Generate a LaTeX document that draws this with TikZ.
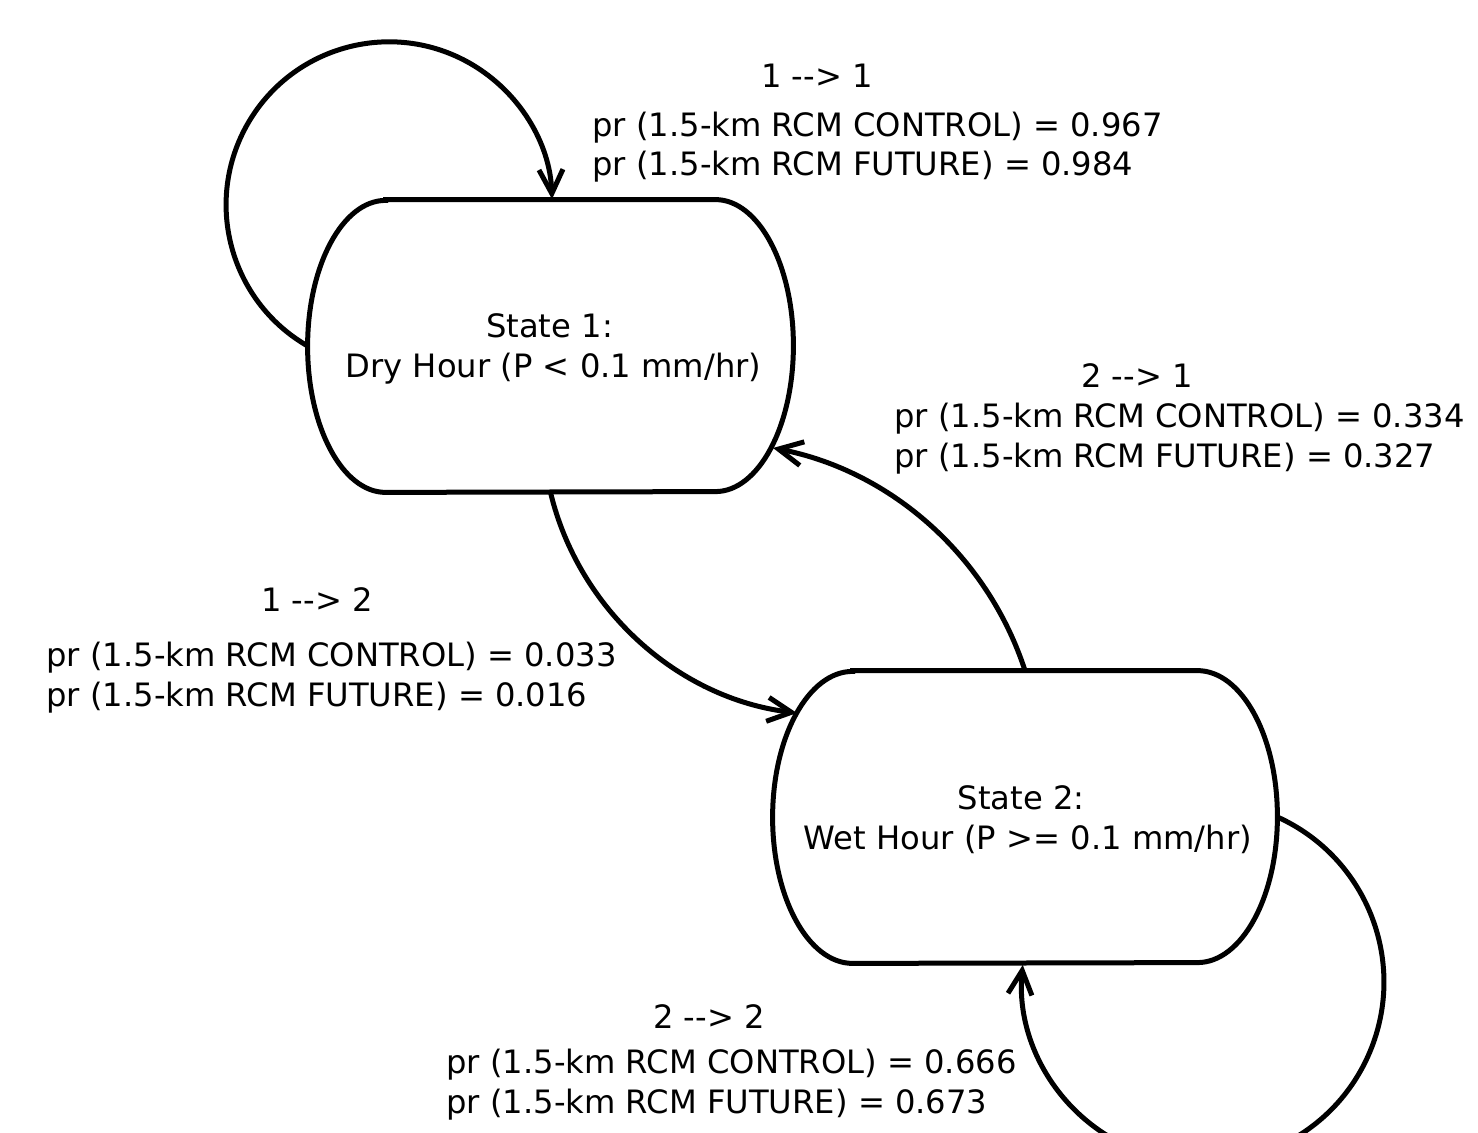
\documentclass[tikz,border=0pt]{standalone}
\usepackage{fontspec}
\setmainfont{DejaVu Sans}
\usetikzlibrary{arrows.meta}
\newcommand\tarrow{-\kern0pt-\kern0pt>}
\begin{document}
\begin{tikzpicture}[x=0.5pt,y=0.5pt,
  lbl/.style={inner sep=0pt, font=\fontsize{16.1pt}{20pt}\selectfont},
  statebox/.style={rectangle, inner sep=0pt, align=center, font=\fontsize{16.1pt}{20pt}\selectfont},
  outline/.style={line width=2.5pt},
  link/.style={line width=2.5pt, -{Straight Barb[length=12pt,width=12pt]}}]
\path[use as bounding box, fill=white] (0,0) rectangle (1478,-1133);
\clip (0,0) rectangle (1478,-1133);

% states
\node[statebox, minimum width=242.5pt, minimum height=146pt] (s1) at (550.5,-346)
  {\rule{0pt}{15pt}State 1:\hspace*{1pt}\\\hspace*{3pt}Dry Hour (P < 0.1 mm/hr)};
\node[statebox, minimum width=252pt, minimum height=146pt] (s2) at (1025,-817)
  {\rule{0pt}{14.5pt}State 2:\hspace*{4pt}\\\hspace*{3pt}Wet Hour (P >= 0.1 mm/hr)};

\draw[outline] ([xshift=39pt]s1.north west) -- ([xshift=-39pt]s1.north east)
  arc[start angle=90,end angle=-90,x radius=39pt,y radius=73pt]
  -- ([xshift=39pt]s1.south west)
  arc[start angle=270,end angle=90,x radius=39pt,y radius=73pt] -- cycle;
\draw[outline] ([xshift=40pt]s2.north west) -- ([xshift=-40pt]s2.north east)
  arc[start angle=90,end angle=-90,x radius=40pt,y radius=73pt]
  -- ([xshift=40pt]s2.south west)
  arc[start angle=270,end angle=90,x radius=40pt,y radius=73pt] -- cycle;

% connectors
\draw[link] (s1.west) arc[start angle=240,end angle=2,radius=163];
\draw[link] (s2.east) arc[start angle=65.7,end angle=-185.4,radius=181];
\draw[link] (s1.south) to[out=-76.5,in=173,looseness=0.93] ([shift={(-228,104)}]s2.center);
\draw[link] (s2.north) to[out=108,in=-11,looseness=0.915] ([shift={(222.5,-102)}]s1.center);

% labels
\node[lbl, anchor=base] (t11) at (817,-87.5) {1 \tarrow{} 1};
\node[lbl, anchor=base west] (c11) at (592,-136.5) {pr (1.5-km RCM CONTROL) = 0.967};
\node[lbl, anchor=base west] (f11) at (592,-175.5) {pr (1.5-km RCM FUTURE) = 0.984};

\node[lbl, anchor=base] (t21) at (1137,-387.5) {2 \tarrow{} 1};
\node[lbl, anchor=base west] (c21) at (894,-427.5) {pr (1.5-km RCM CONTROL) = 0.334};
\node[lbl, anchor=base west] (f21) at (894,-467.5) {pr (1.5-km RCM FUTURE) = 0.327};

\node[lbl, anchor=base] (t12) at (317,-611.5) {1 \tarrow{} 2};
\node[lbl, anchor=base west] (c12) at (46,-666.5) {pr (1.5-km RCM CONTROL) = 0.033};
\node[lbl, anchor=base west] (f12) at (46,-706.5) {pr (1.5-km RCM FUTURE) = 0.016};

\node[lbl, anchor=base] (t22) at (709,-1028.5) {2 \tarrow{} 2};
\node[lbl, anchor=base west] (c22) at (446,-1073.5) {pr (1.5-km RCM CONTROL) = 0.666};
\node[lbl, anchor=base west] (f22) at (446,-1113.5) {pr (1.5-km RCM FUTURE) = 0.673};
\end{tikzpicture}
\end{document}
